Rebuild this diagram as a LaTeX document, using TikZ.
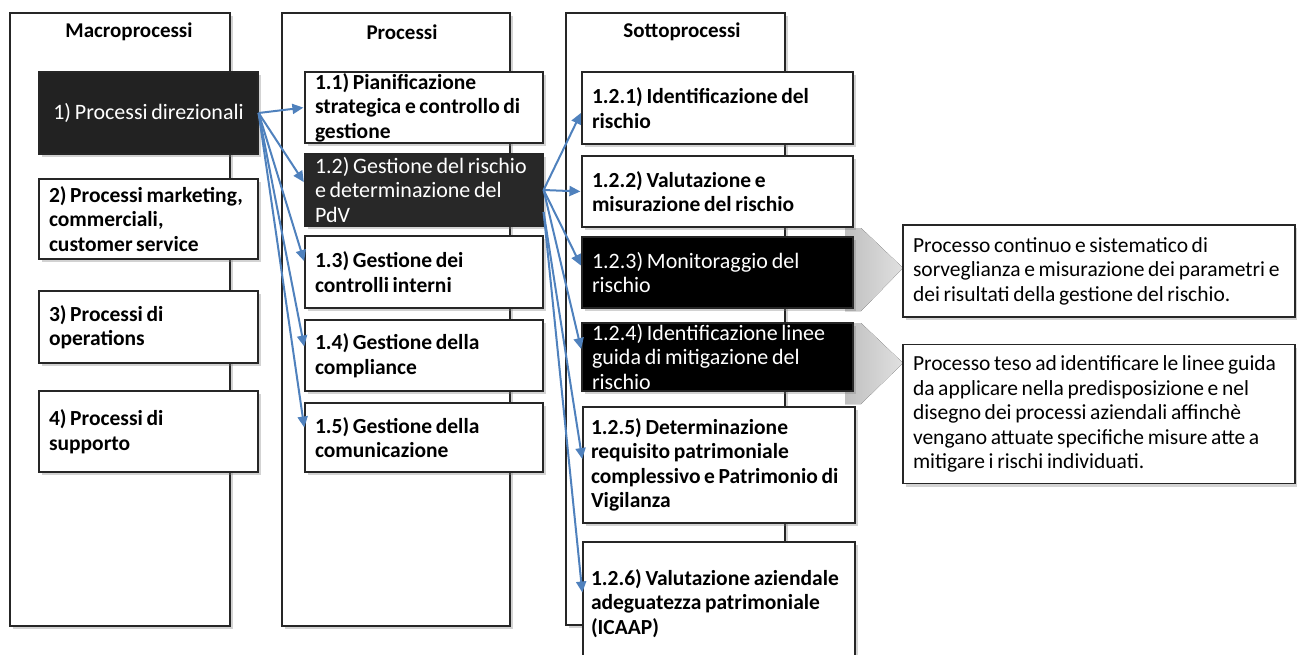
\documentclass[tikz,border=0pt]{standalone}
\usepackage{fontspec}
\setmainfont{Carlito}[WordSpace=0.75]
\usetikzlibrary{shadows, arrows.meta}
\definecolor{arrowblue}{RGB}{79,129,189}
\definecolor{darkfill}{RGB}{34,34,34}
\definecolor{darkfill2}{RGB}{40,40,40}

\begin{document}
\begin{tikzpicture}[x=1pt,y=-1pt]
				\tikzstyle{shadowed} = [drop shadow={shadow xshift=3pt,shadow yshift=-3pt,opacity=0.35}]
				\tikzstyle{column} = [draw=black!85,fill=white,line width=1.2pt,shadowed]
				\tikzstyle{title} = [font=\fontsize{21}{24.5}\selectfont\bfseries]
				\tikzstyle{box} = [draw=black!85,fill=white,line width=1.2pt,shadowed,font=\fontsize{21.5}{24.5}\selectfont\bfseries,align=flush left,inner xsep=10pt,inner ysep=0pt]
				\tikzstyle{darkbox} = [box,fill=darkfill,text=white,font=\fontsize{22}{24.5}\selectfont]
				\tikzstyle{blackbox} = [box,fill=black,text=white,font=\fontsize{22}{24.5}\selectfont]
				\tikzstyle{note} = [box,font=\fontsize{21.5}{24.5}\selectfont,inner xsep=10pt]
				\tikzstyle{chevron} = [left color=black!25,right color=black!12]
				\tikzstyle{edge} = [-{Triangle[length=11pt,width=10pt]},draw=arrowblue,line width=2pt,shorten >=1pt]
				\useasboundingbox (0,0) rectangle (1297,655);
				% columns
				\node[column,minimum width=220,minimum height=613] (macro) at (120,319.5) {};
				\node[column,minimum width=228,minimum height=613] (proc) at (396,319.5) {};
				\node[column,minimum width=219,minimum height=612] (sotto) at (675.5,319) {};
				\node[title] (macrotitle) at (129,32) {Macroprocessi};
				\node[title] (proctitle) at (402,32) {Processi};
				\node[title] (sottotitle) at (682,32) {Sottoprocessi};
				% chevrons behind the black boxes
				\fill[chevron] (845,228) -- (861,228) -- (903,268) -- (861,311) -- (845,311) -- cycle;
				\fill[chevron] (845,323) -- (861,323) -- (903,363) -- (861,404) -- (845,404) -- cycle;
				% macroprocessi
				\node[darkbox,minimum width=219,minimum height=82,align=center] (m1) at (148.5,113) {1) Processi direzionali};
				\node[box,minimum width=219,minimum height=80,text width=199] (m2) at (148.5,219) {2) Processi marketing,\\commerciali,\\customer service};
				\node[box,minimum width=219,minimum height=72,text width=199] (m3) at (148.5,327) {3) Processi di\\operations};
				\node[box,minimum width=219,minimum height=81,text width=199] (m4) at (148.5,431.5) {4) Processi di\\supporto};
				% processi
				\node[box,minimum width=238,minimum height=71,text width=218] (p1) at (424,107.5) {1.1) Pianificazione\\strategica e controllo di\\gestione};
				\node[darkbox,fill=darkfill2,minimum width=238,minimum height=72,text width=218] (p2) at (424,190) {1.2) Gestione del rischio\\e determinazione del\\PdV};
				\node[box,minimum width=238,minimum height=72,text width=218] (p3) at (424,272) {1.3) Gestione dei\\controlli interni};
				\node[box,minimum width=238,minimum height=71,text width=218] (p4) at (424,355.5) {1.4) Gestione della\\compliance};
				\node[box,minimum width=238,minimum height=69,text width=218] (p5) at (424,437.5) {1.5) Gestione della\\comunicazione};
				% sottoprocessi
				\node[box,minimum width=271,minimum height=72,text width=251] (s1) at (717.5,108) {1.2.1) Identificazione del\\rischio};
				\node[box,minimum width=271,minimum height=71,text width=251] (s2) at (717.5,191.5) {1.2.2) Valutazione e\\misurazione del rischio};
				\node[blackbox,minimum width=271,minimum height=71,text width=251] (s3) at (717.5,272.5) {1.2.3) Monitoraggio del\\rischio};
				\node[blackbox,minimum width=271,minimum height=68,text width=251] (s4) at (717.5,357) {1.2.4) Identificazione linee\\guida di mitigazione del\\rischio};
				\node[box,minimum width=272,minimum height=116,text width=256,inner xsep=8pt] (s5) at (719,465) {1.2.5) Determinazione\\requisito patrimoniale\\complessivo e Patrimonio di\\Vigilanza};
				\node[box,minimum width=272,minimum height=123,text width=256,inner xsep=8pt] (s6) at (719,603.5) {1.2.6) Valutazione aziendale\\adeguatezza patrimoniale\\(ICAAP)};
				% notes
				\node[note,minimum width=392,minimum height=92,text width=372] (n1) at (1099,271) {Processo continuo e sistematico di\\sorveglianza e misurazione dei parametri e\\dei risultati della gestione del rischio.};
				\node[note,minimum width=392,minimum height=139,text width=372] (n2) at (1099,414) {Processo teso ad identificare le linee guida\\da applicare nella predisposizione e nel\\disegno dei processi aziendali affinchè\\vengano attuate specifiche misure atte a\\mitigare i rischi individuati.};
				% arrows
				\draw[edge] (m1.east) -- (p1.west);
				\draw[edge] (m1.east) -- ([yshift=7pt]p2.west);
				\draw[edge] (m1.east) -- ([yshift=10pt]p3.west);
				\draw[edge] (m1.east) -- ([yshift=8pt]p4.west);
				\draw[edge] (m1.east) -- ([yshift=9pt]p5.west);
				\draw[edge] (p2.east) -- ([yshift=-4pt]s1.west);
				\draw[edge] (p2.east) -- (s2.west);
				\draw[edge] (p2.east) -- ([yshift=6pt]s3.west);
				\draw[edge] (p2.east) -- ([yshift=7pt]s4.west);
				\draw[edge] ([yshift=-22pt]p2.east) -- ([yshift=5pt]s5.west);
				\draw[edge] ([yshift=-22pt]p2.east) -- ([yshift=10pt]s6.west);
\end{tikzpicture}
\end{document}
